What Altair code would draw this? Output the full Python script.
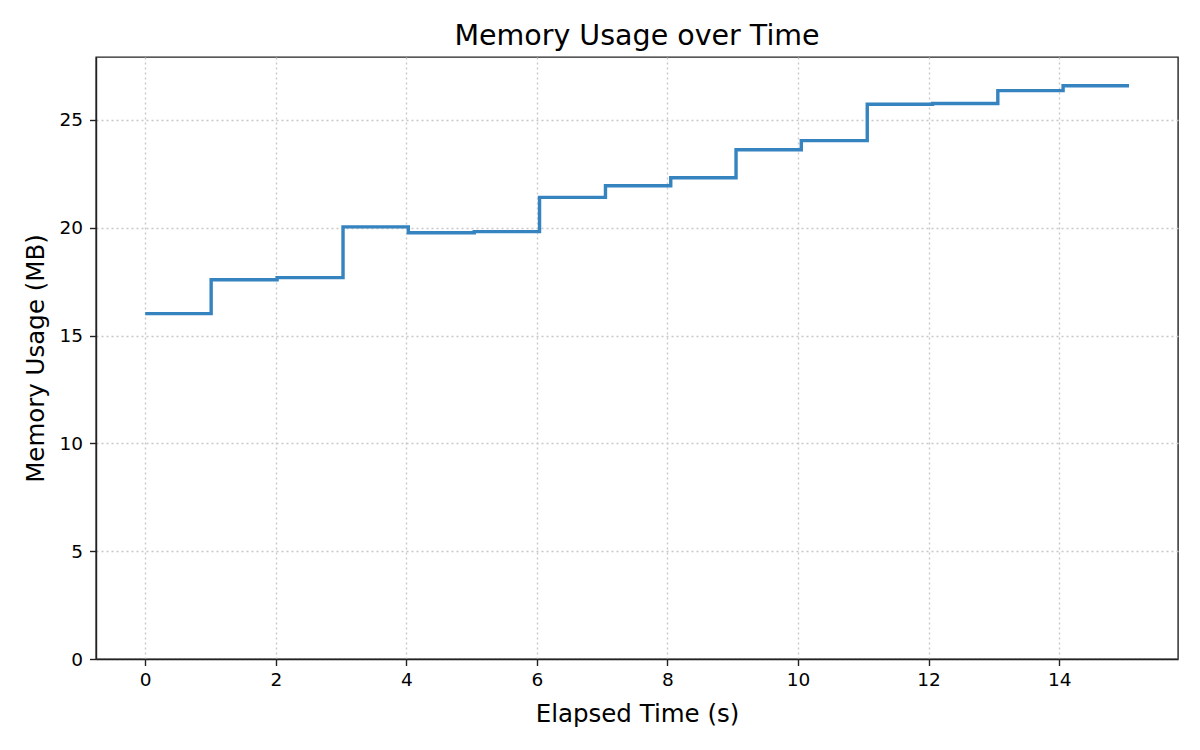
import altair as alt
import pandas as pd

# Sampled memory readings (step-after line)
elapsed_s = [0.0, 1.01, 2.02, 3.03, 4.03, 5.04, 6.04, 7.05, 8.05,
             9.05, 10.05, 11.06, 12.06, 13.06, 14.06, 15.07]
memory_mb = [16.02, 17.59, 17.69, 20.04, 19.77, 19.82, 21.41, 21.95, 22.32,
             23.62, 24.04, 25.73, 25.76, 26.36, 26.59, 26.59]

x_ticks = [0, 2, 4, 6, 8, 10, 12, 14]
y_ticks = [0, 5, 10, 15, 20, 25]

df = pd.DataFrame({"t": elapsed_s, "mem": memory_mb})

W, H = 1082, 602
FONT = "DejaVu Sans"

line = (
    alt.Chart(df)
    .mark_line(interpolate="step-after", color="#3584c0", strokeWidth=3.4, clip=True)
    .encode(
        x=alt.X(
            "t:Q",
            scale=alt.Scale(domain=[-0.754, 15.82], nice=False, zero=False),
            axis=alt.Axis(
                values=x_ticks,
                title="Elapsed Time (s)",
                titleX=W / 2,
                titleY=62.7,
                titleBaseline="alphabetic",
                labelPadding=5,
            ),
        ),
        y=alt.Y(
            "mem:Q",
            scale=alt.Scale(domain=[0, 27.92], nice=False),
            axis=alt.Axis(
                values=y_ticks,
                title="Memory Usage (MB)",
                titleX=-52.7,
                titleY=H / 2,
                titleAngle=-90,
                titleAlign="center",
                titleBaseline="alphabetic",
                labelPadding=7,
            ),
        ),
    )
)

chart = (
    line.properties(
        width=W,
        height=H,
        title=alt.TitleParams(
            "Memory Usage over Time",
            font=FONT,
            fontSize=28.5,
            fontWeight="normal",
            color="#000000",
            anchor="middle",
            frame="group",
            baseline="alphabetic",
            offset=12.7,
            dy=29,
        ),
        autosize=alt.AutoSizeParams(type="none"),
        padding={"left": 88, "top": 49, "right": 14, "bottom": 70},
    )
    .configure_view(stroke="#222222", strokeWidth=1.4)
    .configure_axis(
        labelFont=FONT,
        labelFontSize=18.5,
        labelColor="#000000",
        titleFont=FONT,
        titleFontSize=24.5,
        titleFontWeight="normal",
        titleColor="#000000",
        domain=True,
        domainColor="#222222",
        domainWidth=1.4,
        tickColor="#222222",
        tickWidth=1.4,
        tickSize=6.5,
        grid=True,
        gridColor="#c8c8c8",
        gridWidth=1.4,
        gridDash=[2, 3],
    )
)

chart.save("out.html", embed_options={"renderer": "svg", "actions": False})
